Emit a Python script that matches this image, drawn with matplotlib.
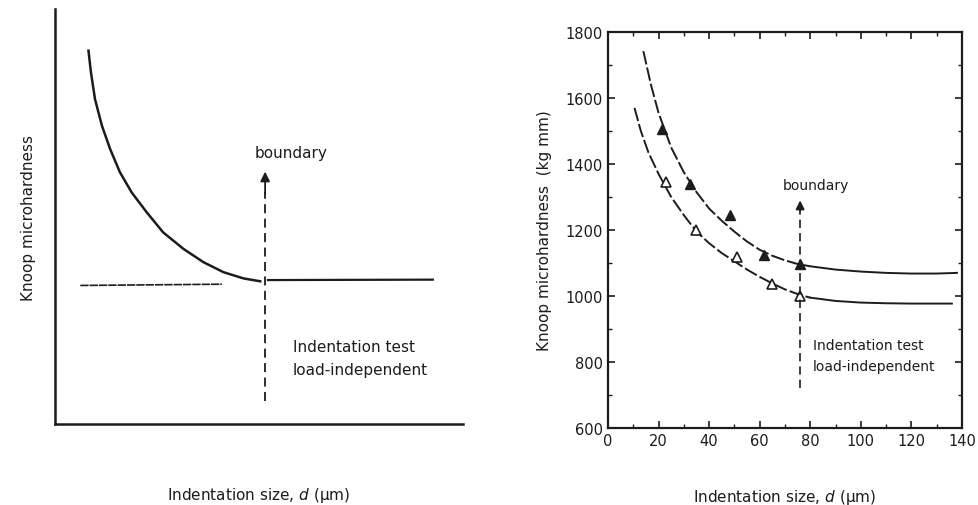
import matplotlib.pyplot as plt
from matplotlib.ticker import MultipleLocator

# ---- data ----
# right panel: measured points (filled and open triangles)
d_filled = [21.2, 32.4, 48.2, 61.7, 75.9]
hk_filled = [1505, 1338, 1245, 1123, 1097]
d_open = [22.8, 34.7, 50.9, 64.9, 75.9]
hk_open = [1345, 1199, 1118, 1036, 1000]

# right panel: fitted curves
d_upper = [14, 17, 20, 25, 30, 35, 40, 45, 50, 55, 60, 65, 70, 75, 80,
           90, 100, 110, 120, 130, 138]
hk_upper = [1742, 1640, 1555, 1450, 1375, 1315, 1265, 1228, 1195, 1165, 1140,
            1122, 1108, 1097, 1090, 1080, 1074, 1070, 1068, 1068, 1070]
d_lower = [10.5, 13, 16, 20, 25, 30, 35, 40, 45, 50, 55, 60, 65, 70, 76, 80,
           90, 100, 110, 120, 136]
hk_lower = [1570, 1500, 1435, 1370, 1300, 1245, 1195, 1160, 1130, 1105, 1080,
            1058, 1038, 1020, 1003, 995, 985, 980, 978, 977, 977]
d_boundary = 76

# left panel (schematic, arbitrary units 0-100)
sx_curve = [8.2, 8.8, 9.8, 11.5, 13.5, 15.9, 18.8, 22.5, 26.5, 31.5, 36.4,
            41.3, 46.2, 50.3]
sy_curve = [90.0, 84.8, 78.3, 71.9, 66.3, 60.7, 55.8, 51.0, 46.2, 42.2, 39.0,
            36.6, 35.1, 34.4]
sx_flat = [52.2, 92.6]
sy_flat = [34.7, 34.8]
sx_dash = [6.2, 40.9]
sy_dash = [33.4, 33.7]
s_boundary = 51.5

ink = '#1c1c1c'
plt.rcParams['font.family'] = 'DejaVu Sans'

fig = plt.figure(figsize=(9.79, 5.06), dpi=100)

# ---------------- left: schematic ----------------
ax1 = fig.add_axes([0.0562, 0.160, 0.4167, 0.820])
ax1.set_xlim(0, 100)
ax1.set_ylim(0, 100)
ax1.plot(sx_curve, sy_curve, color=ink, lw=1.8)
ax1.plot(sx_flat, sy_flat, color=ink, lw=1.6)
ax1.plot(sx_dash, sy_dash, color=ink, lw=1.2, ls=(0, (5, 0.6)))
ax1.plot([s_boundary, s_boundary], [5.5, 56], color=ink, lw=1.3, ls=(0, (5, 3)))
ax1.annotate('', xy=(s_boundary, 61.5), xytext=(s_boundary, 55),
             arrowprops=dict(arrowstyle='-|>', color=ink, lw=1.3, mutation_scale=14))
ax1.text(49, 65.5, 'boundary', fontsize=11, ha='left', va='center', color=ink)
ax1.text(58.3, 18.6, 'Indentation test', fontsize=11, ha='left', va='center', color=ink)
ax1.text(58.3, 13.1, 'load-independent', fontsize=11, ha='left', va='center', color=ink)
for s in ['top', 'right']:
    ax1.spines[s].set_visible(False)
for s in ['left', 'bottom']:
    ax1.spines[s].set_linewidth(1.8)
    ax1.spines[s].set_color(ink)
ax1.set_xticks([])
ax1.set_yticks([])
ax1.set_ylabel('Knoop microhardness', fontsize=11, labelpad=14, color=ink)
ax1.set_xlabel('Indentation size, $d$ (µm)', fontsize=11, labelpad=44, color=ink)

# ---------------- right: measured ----------------
ax2 = fig.add_axes([0.621, 0.1522, 0.3616, 0.7826])
ax2.set_xlim(0, 140)
ax2.set_ylim(600, 1800)

dash = (0, (7, 1.6))
cut_u = d_upper.index(80)
cut_l = d_lower.index(80)
ax2.plot(d_upper[:cut_u + 1], hk_upper[:cut_u + 1], color=ink, lw=1.4, ls=dash)
ax2.plot(d_upper[cut_u:], hk_upper[cut_u:], color=ink, lw=1.4)
ax2.plot(d_lower[:cut_l + 1], hk_lower[:cut_l + 1], color=ink, lw=1.4, ls=dash)
ax2.plot(d_lower[cut_l:], hk_lower[cut_l:], color=ink, lw=1.4)

ax2.plot(d_filled, hk_filled, ls='none', marker='^', ms=7, color=ink,
         markeredgecolor=ink)
ax2.plot(d_open, hk_open, ls='none', marker='^', ms=7, markerfacecolor='white',
         markeredgecolor=ink, markeredgewidth=1.2)

ax2.plot([d_boundary, d_boundary], [720, 1260], color=ink, lw=1.2, ls=(0, (5, 3)))
ax2.annotate('', xy=(d_boundary, 1298), xytext=(d_boundary, 1250),
             arrowprops=dict(arrowstyle='-|>', color=ink, lw=1.2, mutation_scale=13))
ax2.text(69, 1337, 'boundary', fontsize=10, ha='left', va='center', color=ink)
ax2.text(81, 850, 'Indentation test', fontsize=10, ha='left', va='center', color=ink)
ax2.text(81, 789, 'load-independent', fontsize=10, ha='left', va='center', color=ink)

ax2.xaxis.set_major_locator(MultipleLocator(20))
ax2.xaxis.set_minor_locator(MultipleLocator(10))
ax2.yaxis.set_major_locator(MultipleLocator(200))
ax2.yaxis.set_minor_locator(MultipleLocator(100))
ax2.tick_params(which='both', direction='in', top=True, right=True, color=ink,
                labelsize=10.5, labelcolor=ink)
ax2.tick_params(which='major', length=5, width=1.2)
ax2.tick_params(which='minor', length=3, width=1.0)
for s in ax2.spines.values():
    s.set_linewidth(1.6)
    s.set_color(ink)
ax2.set_ylabel('Knoop microhardness  (kg mm)', fontsize=11, labelpad=10, color=ink)
ax2.set_xlabel('Indentation size, $d$ (µm)', fontsize=11, labelpad=28, color=ink)

fig.savefig('out.png', dpi=100, facecolor='white')
